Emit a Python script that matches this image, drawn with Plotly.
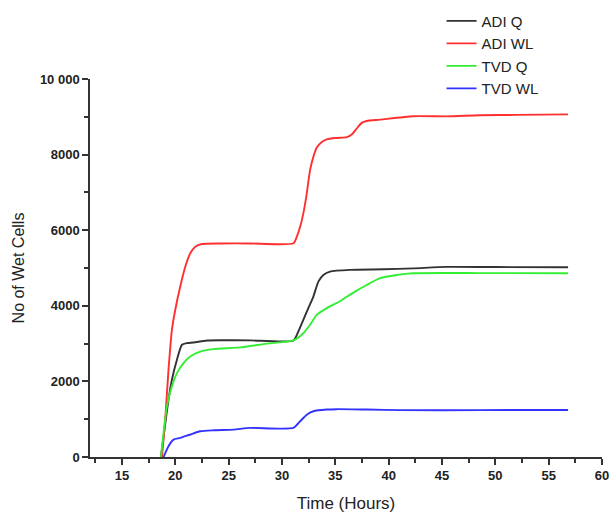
import plotly.graph_objects as go

# Time (hours) and values
adi_wl_t = [18.75, 19.05, 19.36, 19.68, 19.99, 20.46, 20.93, 21.40, 21.87, 22.49, 24.2, 27.0, 31.07,
            31.39, 31.70, 32.0, 32.32, 32.63, 32.94, 33.26, 33.73, 34.2, 35.13, 36.07, 36.54, 37.0,
            37.47, 37.94, 39.19, 42.3, 45.43, 48.55, 52.0, 56.82]
adi_wl_v = [0, 990, 2310, 3365, 3890, 4510, 5035, 5390, 5565, 5635, 5650, 5650, 5655,
            5830, 6090, 6445, 6970, 7590, 7940, 8185, 8335, 8405, 8440, 8460, 8530, 8690,
            8840, 8890, 8925, 9015, 9012, 9040, 9050, 9065]

adi_q_t = [18.65, 19.36, 19.68, 20.15, 20.62, 21.09, 21.70, 22.96, 24.2, 27.0, 31.07, 31.53, 32.0,
           32.47, 32.94, 33.41, 33.88, 34.5, 36.38, 39.49, 42.3, 45.43, 50.0, 56.82]
adi_q_v = [0, 1517, 2045, 2573, 2970, 3014, 3030, 3082, 3090, 3085, 3082, 3320, 3630,
           3940, 4245, 4640, 4815, 4905, 4950, 4965, 4990, 5030, 5025, 5020]

tvd_q_t = [18.65, 19.21, 19.68, 20.15, 20.77, 21.40, 22.33, 23.58, 26.08, 28.58, 31.07, 32.0, 32.63,
           33.26, 34.2, 35.44, 35.75, 37.0, 37.94, 39.19, 40.75, 42.3, 48.55, 56.82]
tvd_q_v = [0, 1340, 1870, 2220, 2485, 2660, 2790, 2855, 2900, 3000, 3085, 3275, 3500,
           3760, 3940, 4120, 4180, 4400, 4550, 4730, 4815, 4860, 4865, 4860]

tvd_wl_t = [18.9, 19.36, 19.83, 20.46, 21.40, 22.33, 23.58, 25.45, 27.01, 31.07, 31.70, 32.32, 32.94,
            34.2, 35.13, 37.94, 41.06, 48.55, 56.82]
tvd_wl_v = [0, 285, 460, 505, 595, 680, 707, 725, 770, 770, 945, 1120, 1210,
            1255, 1265, 1255, 1240, 1240, 1245]

x_ticks = [15, 20, 25, 30, 35, 40, 45, 50, 55, 60]
y_ticks = [0, 2000, 4000, 6000, 8000, 10000]
y_tick_text = ["0", "2000", "4000", "6000", "8000", "10 000"]

series = [
    ("ADI Q", adi_q_t, adi_q_v, "#333333"),
    ("ADI WL", adi_wl_t, adi_wl_v, "#ff3030"),
    ("TVD Q", tvd_q_t, tvd_q_v, "#33ee33"),
    ("TVD WL", tvd_wl_t, tvd_wl_v, "#3333ff"),
]

fig = go.Figure()
for name, t, v, c in series:
    fig.add_trace(go.Scatter(x=t, y=v, name=name, mode="lines",
                             line=dict(color=c, width=1.9, shape="spline", smoothing=0.6)))

axis_font = dict(family="Liberation Sans, Arial, sans-serif", size=13, color="#222", weight="bold")
fig.update_layout(
    width=612, height=513,
    margin=dict(l=90, r=10, t=78.5, b=55.5, autoexpand=False),
    paper_bgcolor="white", plot_bgcolor="white",
    font=dict(family="Liberation Sans, Arial, sans-serif", color="#222"),
    legend=dict(xref="container", yref="container", x=0.7215, y=0.991,
                xanchor="left", yanchor="top",
                font=dict(size=15, color="#222"), bgcolor="rgba(0,0,0,0)",
                tracegroupgap=0, itemwidth=30),
    xaxis=dict(range=[12, 60], tickvals=x_ticks, showgrid=False, zeroline=False, automargin=False,
               showline=True, linecolor="#333", linewidth=1.5,
               ticks="outside", ticklen=6, tickwidth=1.5, tickcolor="#333",
               tickfont=axis_font,
               minor=dict(dtick=2.5, tick0=0, ticks="outside", ticklen=4, tickwidth=1.5, tickcolor="#333", showgrid=False),
               title=dict(text="Time (Hours)", font=dict(size=17, color="#222"), standoff=15)),
    yaxis=dict(range=[0, 10000], tickvals=y_ticks, ticktext=y_tick_text, showgrid=False, zeroline=False,
               automargin=False,
               showline=True, linecolor="#333", linewidth=1.5,
               ticks="outside", ticklen=6, tickwidth=1.5, tickcolor="#333",
               tickfont=axis_font,
               minor=dict(dtick=1000, tick0=0, ticks="outside", ticklen=4, tickwidth=1.5, tickcolor="#333", showgrid=False),
               title=dict(text="No of Wet Cells", font=dict(size=16, color="#222"), standoff=11)),
)

fig.write_html("out.html", config={"displayModeBar": False},
               post_script="document.body.style.margin='0';document.body.style.overflow='hidden';")
